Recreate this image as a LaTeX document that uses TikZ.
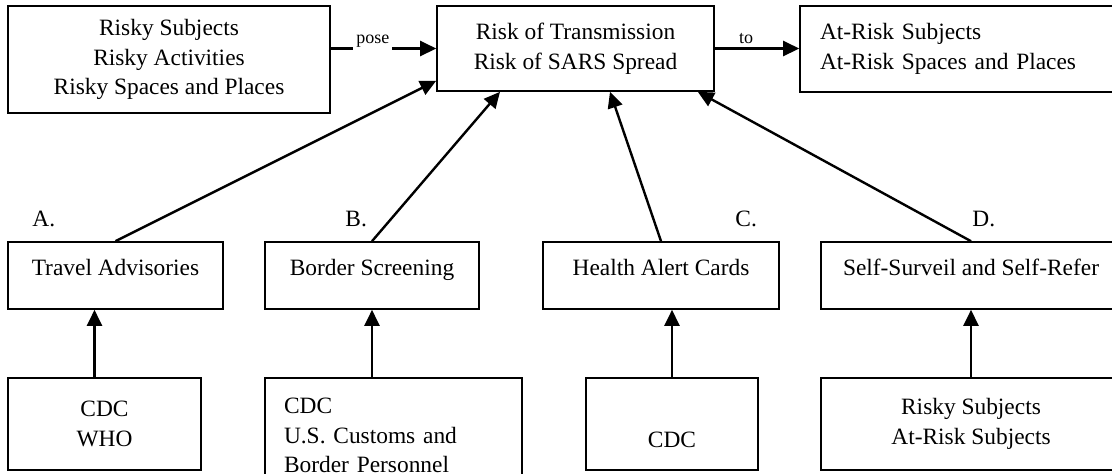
\documentclass[tikz,border=0pt]{standalone}
\usepackage{fontspec}
\setmainfont{Liberation Serif}
\usetikzlibrary{arrows.meta, positioning}

\begin{document}
\begin{tikzpicture}[
    x=0.5pt, y=-0.5pt,
    box/.style={rectangle, draw=black, line width=0.8pt, align=center,
                inner sep=0pt, font=\fontsize{11.7}{14.75}\selectfont},
    leftbox/.style={box, align=left, inner xsep=10pt},
    single/.style={box, text height=8pt, text depth=8pt},
    arr/.style={-{Triangle[length=8pt, width=7.5pt]}, line width=1.2pt},
    verb/.style={fill=white, inner sep=1.5pt, anchor=base, yshift=2.5pt,
                 font=\fontsize{9}{10}\selectfont},
    tag/.style={anchor=base west, inner sep=0pt,
                font=\fontsize{11.7}{14.75}\selectfont}
]
\useasboundingbox (0,0) rectangle (1112,473);
\clip (0,0) rectangle (1112,473);

%% ── Top row: sources, risk, targets ──
\node[box, minimum width=161pt, minimum height=53.5pt] (RS) at (169,59.5)
    {Risky Subjects\\Risky Activities\\Risky Spaces and Places};
\node[box, minimum width=138.5pt, minimum height=42.5pt] (RT) at (575.5,48.5)
    {Risk of Transmission\\Risk of SARS Spread};
\node[leftbox, text width=145pt, minimum height=43pt] (AR) at (965,49)
    {At-Risk Subjects\\At-Risk Spaces and Places};

%% ── Middle row: interventions ──
\node[single, minimum width=107.5pt, minimum height=33.5pt] (TA) at (115.5,275.5) {Travel Advisories};
\node[single, minimum width=107pt,   minimum height=33.5pt] (BS) at (372,275.5)   {Border Screening};
\node[single, minimum width=118pt,   minimum height=33.5pt] (HC) at (661,275.5)   {Health Alert Cards};
\node[single, minimum width=150pt,   minimum height=33.5pt] (SS) at (971,275.5)   {Self-Surveil and Self-Refer};

\node[tag] (LA) at (32,226)  {A.};
\node[tag] (LB) at (345,226) {B.};
\node[tag] (LC) at (735,226) {C.};
\node[tag] (LD) at (972,226) {D.};

%% ── Bottom row: actors ──
\node[box, minimum width=96.5pt, minimum height=46pt] (CW) at (104.5,424) {CDC\\WHO};
\node[leftbox, inner xsep=9.5pt, text width=109.5pt, minimum height=57.5pt] (CB) at (393.5,435.5)
    {CDC\\U.S. Customs and\\Border Personnel};
\node[box, minimum width=86pt, minimum height=46pt, text height=23pt, text depth=0pt] (CC) at (672,424) {CDC};
\node[box, minimum width=150pt, minimum height=46pt] (RA) at (971,424) {Risky Subjects\\At-Risk Subjects};

%% ── Top row arrows ──
\draw[arr] (RT.west -| RS.east) -- node[verb, pos=0.4] (pose) {pose} (RT.west);
\draw[arr] (RT.east) -- node[verb, pos=0.37] (to) {to} (RT.east -| AR.west);

%% ── Interventions → risk ──
\draw[arr] (TA.north) -- ([yshift=5.5pt]RT.south west);
\draw[arr] (BS.north) -- ([xshift=-37.75pt]RT.south);
\draw[arr] (HC.north) -- ([xshift=17.25pt]RT.south);
\draw[arr] (SS.north) -- ([xshift=-8.5pt]RT.south east);

%% ── Actors → interventions ──
\draw[arr] ([xshift=-5pt]CW.north) -- ([xshift=-5pt]CW.north |- TA.south);
\draw[arr] (BS.south |- CB.north) -- (BS.south);
\draw[arr] (CC.north) -- (CC.north |- HC.south);
\draw[arr] (RA.north) -- (SS.south);

\end{tikzpicture}
\end{document}
